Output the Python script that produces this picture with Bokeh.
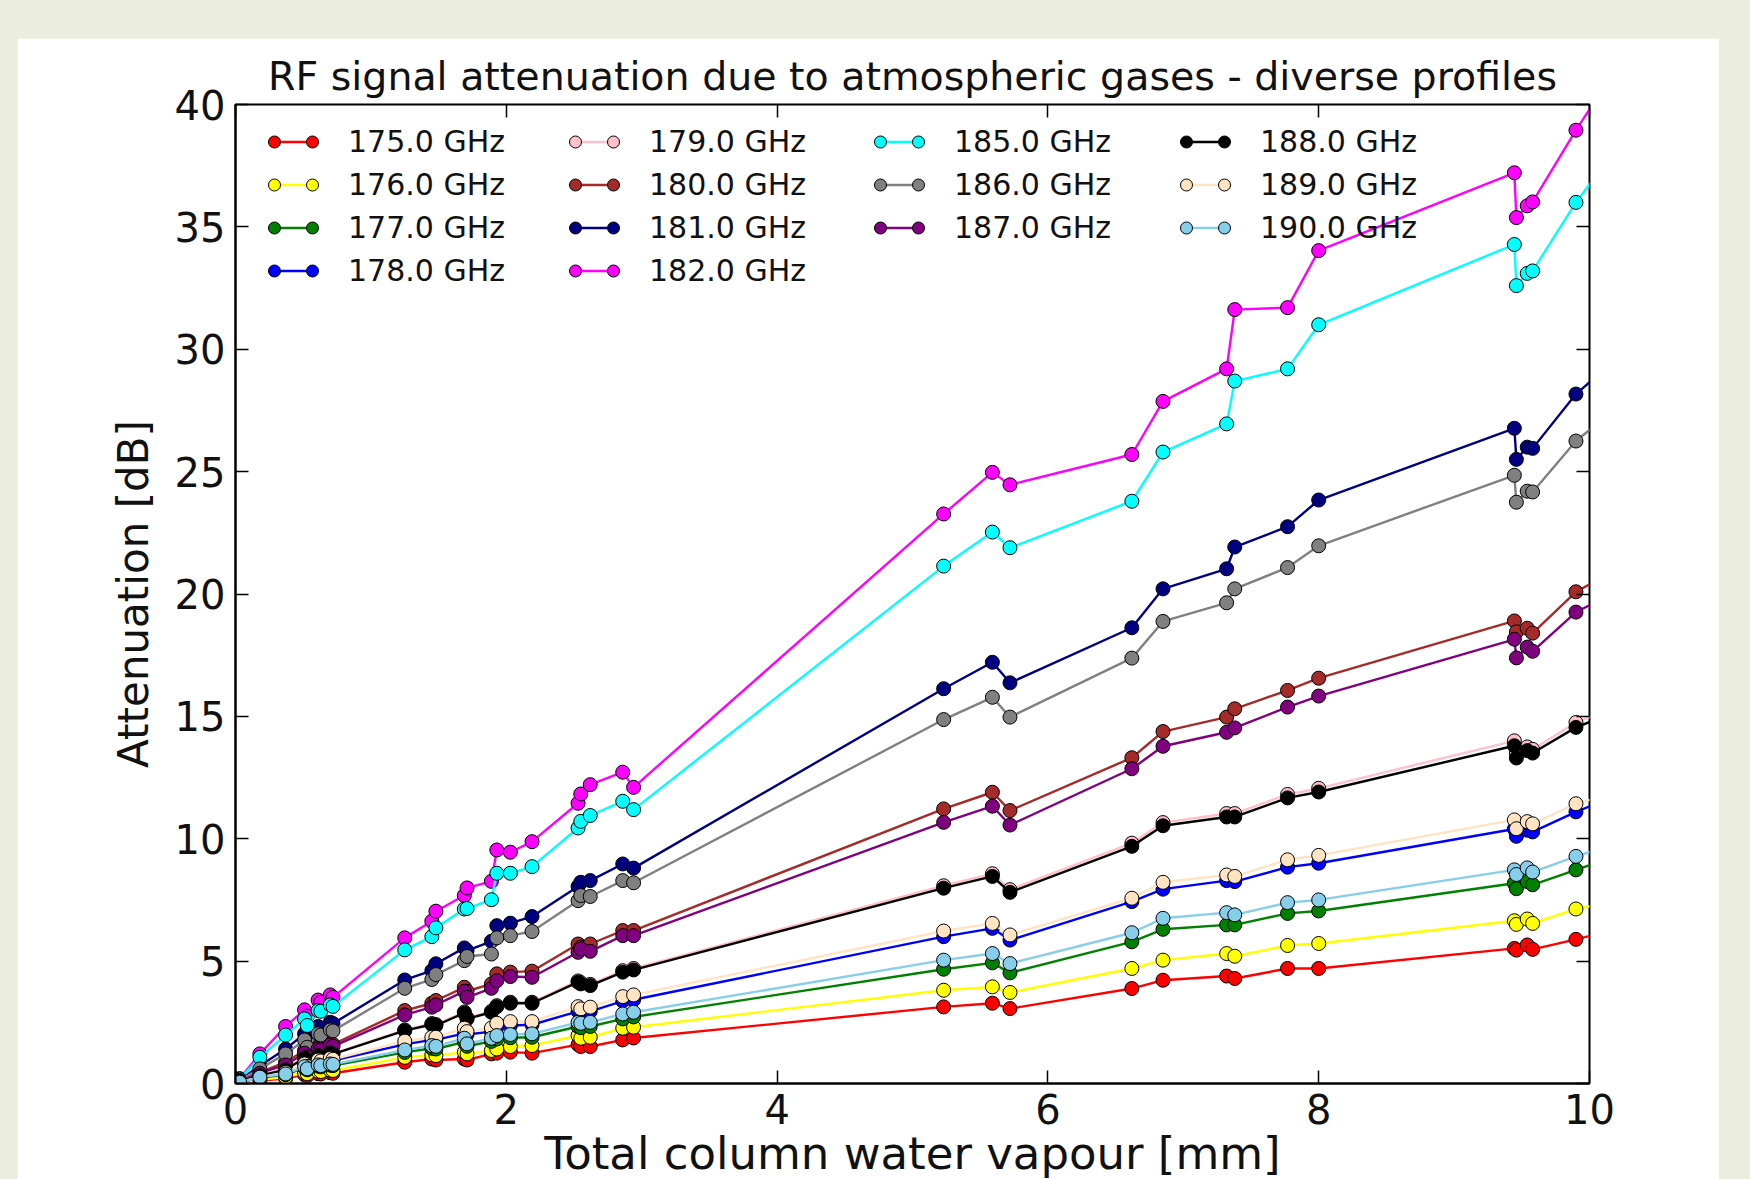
from bokeh.plotting import figure
from bokeh.models import (Legend, LegendItem, LinearAxis, Range1d, FixedTicker,
                          Spacer, CustomLabelingPolicy)
from bokeh.layouts import column, row
from bokeh.embed import file_html
from bokeh.resources import INLINE

# Total column water vapour [mm] for each profile
tcwv = [0.03, 0.18, 0.37, 0.51, 0.53, 0.61, 0.63, 0.70, 0.72, 1.25,
        1.45, 1.48, 1.69, 1.71, 1.89, 1.93, 2.03, 2.19, 2.53, 2.55,
        2.62, 2.86, 2.94, 5.23, 5.59, 5.72, 6.62, 6.85, 7.32, 7.38,
        7.77, 8.00, 9.445, 9.46, 9.54, 9.58, 9.90, 10.2]

att_175 = [0.03, 0.12, 0.20, 0.36, 0.32, 0.40, 0.39, 0.44, 0.42, 0.87,
           1.00, 0.96, 1.00, 0.96, 1.21, 1.24, 1.28, 1.24, 1.59, 1.51,
           1.51, 1.78, 1.86, 3.13, 3.28, 3.06, 3.88, 4.22, 4.39, 4.29,
           4.70, 4.70, 5.52, 5.45, 5.66, 5.48, 5.89, 6.30]
att_176 = [0.04, 0.15, 0.26, 0.45, 0.40, 0.50, 0.49, 0.55, 0.53, 1.07,
           1.17, 1.14, 1.28, 1.21, 1.35, 1.41, 1.51, 1.55, 1.96, 1.85,
           1.89, 2.26, 2.30, 3.81, 3.95, 3.72, 4.70, 5.04, 5.31, 5.20,
           5.64, 5.72, 6.65, 6.50, 6.72, 6.54, 7.13, 7.45]
att_177 = [0.05, 0.24, 0.36, 0.64, 0.56, 0.71, 0.68, 0.75, 0.73, 1.27,
           1.44, 1.41, 1.70, 1.52, 1.72, 1.82, 1.87, 1.89, 2.33, 2.28,
           2.33, 2.64, 2.72, 4.67, 4.93, 4.52, 5.79, 6.30, 6.48, 6.48,
           6.95, 7.05, 8.18, 7.96, 8.25, 8.12, 8.73, 9.30]
att_178 = [0.06, 0.23, 0.42, 0.75, 0.66, 0.90, 0.87, 0.97, 0.94, 1.60,
           1.78, 1.78, 2.05, 2.00, 2.12, 2.30, 2.37, 2.40, 2.95, 2.90,
           2.95, 3.37, 3.42, 6.00, 6.34, 5.86, 7.43, 7.94, 8.29, 8.25,
           8.84, 9.00, 10.40, 10.10, 10.35, 10.28, 11.10, 11.75]
att_179 = [0.08, 0.33, 0.58, 1.06, 0.90, 1.16, 1.12, 1.26, 1.22, 2.19,
           2.45, 2.41, 2.92, 2.68, 2.95, 3.18, 3.32, 3.32, 4.19, 4.12,
           4.05, 4.61, 4.70, 8.08, 8.57, 7.92, 9.82, 10.66, 11.03, 11.03,
           11.81, 12.06, 14.00, 13.50, 13.75, 13.65, 14.75, 15.40]
att_180 = [0.10, 0.45, 0.87, 1.35, 1.15, 1.51, 1.47, 1.65, 1.60, 2.98,
           3.28, 3.39, 3.93, 3.77, 4.07, 4.48, 4.55, 4.59, 5.70, 5.57,
           5.70, 6.25, 6.25, 11.22, 11.90, 11.15, 13.31, 14.38, 14.97, 15.31,
           16.06, 16.56, 18.90, 18.45, 18.60, 18.40, 20.09, 21.00]
att_181 = [0.14, 0.73, 1.41, 2.03, 1.73, 2.33, 2.25, 2.50, 2.45, 4.23,
           4.61, 4.89, 5.54, 5.43, 5.81, 6.45, 6.55, 6.82, 8.05, 8.22,
           8.29, 8.97, 8.80, 16.13, 17.21, 16.37, 18.62, 20.21, 21.03, 21.92,
           22.75, 23.84, 26.77, 25.50, 26.00, 25.95, 28.17, 29.60]
att_182 = [0.20, 1.21, 2.33, 3.01, 2.75, 3.41, 3.32, 3.62, 3.52, 5.95,
           6.63, 7.04, 7.68, 7.99, 8.26, 9.54, 9.45, 9.88, 11.45, 11.83,
           12.21, 12.72, 12.10, 23.27, 24.97, 24.46, 25.70, 27.87, 29.20, 31.62,
           31.70, 34.03, 37.21, 35.38, 35.86, 36.02, 38.95, 41.50]
att_185 = [0.18, 1.07, 1.98, 2.64, 2.37, 2.98, 2.95, 3.21, 3.15, 5.46,
           6.00, 6.36, 7.13, 7.15, 7.51, 8.59, 8.59, 8.86, 10.44, 10.71,
           10.95, 11.53, 11.19, 21.14, 22.53, 21.89, 23.79, 25.80, 26.95, 28.70,
           29.20, 31.00, 34.28, 32.60, 33.10, 33.20, 36.00, 38.20]
att_186 = [0.13, 0.60, 1.21, 1.78, 1.48, 2.03, 1.98, 2.19, 2.15, 3.89,
           4.25, 4.45, 5.02, 5.19, 5.29, 5.95, 6.04, 6.21, 7.47, 7.68,
           7.64, 8.29, 8.20, 14.87, 15.78, 14.97, 17.38, 18.88, 19.64, 20.21,
           21.08, 21.97, 24.85, 23.75, 24.20, 24.17, 26.25, 27.60]
att_187 = [0.10, 0.42, 0.76, 1.24, 1.08, 1.41, 1.38, 1.58, 1.52, 2.80,
           3.12, 3.21, 3.77, 3.52, 3.89, 4.20, 4.37, 4.34, 5.36, 5.50,
           5.40, 6.04, 6.04, 10.67, 11.33, 10.56, 12.86, 13.78, 14.35, 14.53,
           15.38, 15.83, 18.15, 17.39, 17.83, 17.66, 19.26, 20.10]
att_188 = [0.08, 0.32, 0.56, 1.04, 0.88, 1.14, 1.10, 1.24, 1.20, 2.16,
           2.41, 2.37, 2.88, 2.64, 2.91, 3.14, 3.28, 3.28, 4.14, 4.07,
           4.00, 4.55, 4.64, 7.98, 8.46, 7.81, 9.69, 10.53, 10.89, 10.89,
           11.67, 11.91, 13.80, 13.30, 13.60, 13.50, 14.55, 15.20]
att_189 = [0.06, 0.25, 0.45, 0.80, 0.70, 0.96, 0.92, 1.03, 0.99, 1.73,
           1.89, 1.89, 2.26, 2.12, 2.27, 2.46, 2.53, 2.53, 3.14, 3.05,
           3.12, 3.55, 3.62, 6.23, 6.54, 6.07, 7.57, 8.22, 8.52, 8.46,
           9.14, 9.32, 10.77, 10.41, 10.70, 10.61, 11.43, 11.90]
att_190 = [0.05, 0.26, 0.39, 0.69, 0.60, 0.76, 0.73, 0.80, 0.78, 1.37,
           1.55, 1.52, 1.85, 1.62, 1.85, 1.96, 2.00, 2.03, 2.50, 2.46,
           2.50, 2.84, 2.91, 5.04, 5.31, 4.90, 6.16, 6.75, 6.98, 6.89,
           7.39, 7.50, 8.73, 8.54, 8.81, 8.64, 9.28, 9.80]

freq_labels = ["175.0 GHz", "176.0 GHz", "177.0 GHz", "178.0 GHz",
               "179.0 GHz", "180.0 GHz", "181.0 GHz", "182.0 GHz",
               "185.0 GHz", "186.0 GHz", "187.0 GHz",
               "188.0 GHz", "189.0 GHz", "190.0 GHz"]
series_colors = ["red", "yellow", "green", "blue",
                 "pink", "brown", "navy", "magenta",
                 "cyan", "gray", "purple",
                 "black", "bisque", "skyblue"]
x_ticks = [0, 2, 4, 6, 8, 10]
y_ticks = [0, 5, 10, 15, 20, 25, 30, 35, 40]

all_series = [att_175, att_176, att_177, att_178, att_179, att_180, att_181,
              att_182, att_185, att_186, att_187, att_188, att_189, att_190]

FONT = "DejaVu Sans"
FRAME_H = 979

p = figure(frame_width=1354, frame_height=FRAME_H,
           x_range=Range1d(0, 10), y_range=Range1d(0, 40),
           output_backend="svg", toolbar_location=None,
           min_border_left=218, min_border_right=130,
           min_border_top=66, min_border_bottom=96,
           title="RF signal attenuation due to atmospheric gases - diverse profiles",
           background_fill_color="white", border_fill_color="white",
           x_axis_label="Total column water vapour [mm]",
           y_axis_label="Attenuation [dB]")

p.title.text_font = FONT
p.title.text_font_size = "39.5px"
p.title.text_font_style = "normal"
p.title.text_color = "#111111"
p.title.align = "center"
p.title.standoff = 4

p.xgrid.visible = False
p.ygrid.visible = False
p.outline_line_color = "black"
p.outline_line_width = 2
p.outline_line_alpha = 1

for ax, ticks in ((p.xaxis[0], x_ticks), (p.yaxis[0], y_ticks)):
    ax.ticker = FixedTicker(ticks=ticks)
    ax.major_tick_in = 13
    ax.major_tick_out = 0
    ax.minor_tick_in = 0
    ax.minor_tick_out = 0
    ax.major_tick_line_width = 1.5
    ax.major_tick_line_color = "black"
    ax.axis_line_width = 2
    ax.axis_line_color = "black"
    ax.major_label_text_font = FONT
    ax.major_label_text_font_size = "40px"
    ax.major_label_text_color = "#111111"
    ax.axis_label_text_font = FONT
    ax.axis_label_text_font_style = "normal"
    ax.axis_label_text_color = "#111111"

p.xaxis[0].major_label_standoff = 10
p.xaxis[0].axis_label_standoff = 0
p.xaxis[0].axis_label_text_font_size = "45px"
p.yaxis[0].major_label_standoff = 10
p.yaxis[0].axis_label_standoff = 14
p.yaxis[0].axis_label_text_font_size = "42px"

# tick marks on top and right sides, without any labels
no_labels = CustomLabelingPolicy(code="for (const i of indices) { indices.unset(i) }\nreturn indices")
for place, ticks in (("above", x_ticks), ("right", y_ticks)):
    a = LinearAxis(ticker=FixedTicker(ticks=ticks),
                   major_tick_in=13, major_tick_out=0,
                   minor_tick_in=0, minor_tick_out=0,
                   major_tick_line_width=1.5, major_tick_line_color="black",
                   axis_line_color=None, major_label_policy=no_labels,
                   major_label_text_font_size="1px", major_label_standoff=0)
    p.add_layout(a, place)

line_rs = []
dot_rs = []
for vals, col in zip(all_series, series_colors):
    line_rs.append(p.line(tcwv, vals, line_color=col, line_width=2.4))
    dot_rs.append(p.scatter(tcwv, vals, marker="circle", size=14, fill_color=col,
                            line_color="black", line_width=1))

groups = [[0, 1, 2, 3], [4, 5, 6, 7], [8, 9, 10], [11, 12, 13]]
x_offsets = [33, 334, 639, 945]
row_h = 35
row_gap = 8
top_gap = 20
common = dict(orientation="vertical", label_text_font=FONT,
              label_text_font_size="30px", label_text_color="#111111",
              glyph_height=row_h, label_height=row_h, spacing=row_gap,
              padding=0, margin=0, border_line_color=None,
              background_fill_alpha=0)
for grp, xo in zip(groups, x_offsets):
    n = len(grp)
    h = n * row_h + (n - 1) * row_gap
    vy = FRAME_H - top_gap - h
    # line sample + label
    leg = Legend(items=[LegendItem(label=freq_labels[i], renderers=[line_rs[i]]) for i in grp],
                 location=(xo, vy), glyph_width=50, label_standoff=30, **common)
    p.add_layout(leg)
    # a marker at each end of the line sample
    for dx in (6, 44):
        mk = Legend(items=[LegendItem(label="", renderers=[dot_rs[i]]) for i in grp],
                    location=(xo + dx - 15, vy), glyph_width=30, label_standoff=0,
                    **common)
        p.add_layout(mk)

page = column(Spacer(height=38), row(Spacer(width=17), p, Spacer(width=31)),
              height=1179,
              styles={"background-color": "#EBEEDE", "overflow": "hidden"})

with open("out.html", "w") as f:
    f.write(file_html(page, INLINE))
